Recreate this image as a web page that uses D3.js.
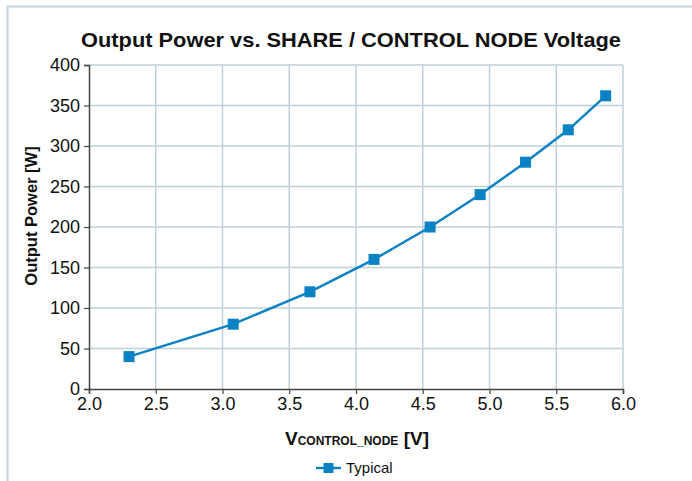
<!DOCTYPE html>
<html>
<head>
<meta charset="utf-8">
<script src="https://cdn.jsdelivr.net/npm/d3@7"></script>
<style>
  body { margin: 0; background: #fff; }
  svg { display: block; font-family: "Liberation Sans", Arial, sans-serif; }
</style>
</head>
<body>
<div id="chart"></div>
<script>
// Values
const voltage = [2.3, 3.08, 3.655, 4.135, 4.555, 4.93, 5.27, 5.59, 5.87];
const power = [40, 80, 120, 160, 200, 240, 280, 320, 362];
const xTicks = [2.0, 2.5, 3.0, 3.5, 4.0, 4.5, 5.0, 5.5, 6.0];
const yTicks = [0, 50, 100, 150, 200, 250, 300, 350, 400];
const seriesName = "Typical";

const W = 692, H = 481;
const margin = {top: 65, right: 69, bottom: 92, left: 89};
const width = W - margin.left - margin.right;
const height = H - margin.top - margin.bottom;
const blue = "#0a82c4";

const svg = d3.select("#chart").append("svg")
  .attr("width", W)
  .attr("height", H);

// outer frame (top and left edges only)
svg.append("line").attr("x1", 7).attr("x2", W).attr("y1", 6.5).attr("y2", 6.5)
  .attr("stroke", "#c3d5dc").attr("stroke-width", 2);
svg.append("line").attr("x1", 7.5).attr("x2", 7.5).attr("y1", 6).attr("y2", H)
  .attr("stroke", "#c3d5dc").attr("stroke-width", 2);

const g = svg.append("g").attr("transform", `translate(${margin.left},${margin.top})`);

const x = d3.scaleLinear().domain([2, 6]).range([0, width]);
const y = d3.scaleLinear().domain([0, 400]).range([height, 0]);

// grid
g.selectAll("line.vgrid").data(xTicks.slice(1)).enter().append("line")
  .attr("class", "vgrid")
  .attr("x1", d => x(d)).attr("x2", d => x(d))
  .attr("y1", 0).attr("y2", height)
  .attr("stroke", "#bfd0d8").attr("stroke-width", 1.5);
g.selectAll("line.hgrid").data(yTicks.slice(1)).enter().append("line")
  .attr("class", "hgrid")
  .attr("x1", 0).attr("x2", width)
  .attr("y1", d => y(d)).attr("y2", d => y(d))
  .attr("stroke", "#bfd0d8").attr("stroke-width", 1.5);

// axes
const xAxis = g.append("g")
  .attr("transform", `translate(0,${height})`)
  .call(d3.axisBottom(x).tickValues(xTicks).tickFormat(d3.format(".1f")).tickSizeOuter(0).tickSize(5));
const yAxis = g.append("g")
  .call(d3.axisLeft(y).tickValues(yTicks).tickSizeOuter(0).tickSize(5));

[xAxis, yAxis].forEach(a => {
  a.select(".domain").attr("stroke", "#444").attr("stroke-width", 1.5);
  a.selectAll(".tick line").attr("stroke", "#444").attr("stroke-width", 1.2);
  a.selectAll(".tick text")
    .attr("fill", "#111")
    .style("font-family", "'Liberation Sans', Arial, sans-serif")
    .style("font-size", "18px");
});
xAxis.selectAll(".tick text").attr("y", 8);
yAxis.selectAll(".tick text").attr("x", -9);

// line + markers
const line = d3.line().x((d, i) => x(voltage[i])).y(d => y(d));
g.append("path")
  .datum(power)
  .attr("fill", "none")
  .attr("stroke", blue)
  .attr("stroke-width", 2.4)
  .attr("d", line);

g.selectAll("rect.pt").data(power).enter().append("rect")
  .attr("class", "pt")
  .attr("x", (d, i) => x(voltage[i]) - 5.5)
  .attr("y", d => y(d) - 5.5)
  .attr("width", 11).attr("height", 11)
  .attr("fill", blue);

// title
svg.append("text")
  .attr("x", 351).attr("y", 47)
  .attr("text-anchor", "middle")
  .attr("textLength", 540).attr("lengthAdjust", "spacingAndGlyphs")
  .style("font-size", "21px").style("font-weight", "bold")
  .attr("fill", "#111")
  .text("Output Power vs. SHARE / CONTROL NODE Voltage");

// y label
svg.append("text")
  .attr("transform", "translate(37,216) rotate(-90)")
  .attr("text-anchor", "middle")
  .style("font-size", "16.5px").style("font-weight", "bold")
  .attr("fill", "#111")
  .text("Output Power [W]");

// x label with subscript
const xl = svg.append("text")
  .attr("x", 357).attr("y", 445)
  .attr("text-anchor", "middle")
  .style("font-weight", "bold")
  .attr("fill", "#111");
xl.append("tspan").style("font-size", "19px").text("V");
xl.append("tspan").style("font-size", "12px").text("CONTROL_NODE");
xl.append("tspan").style("font-size", "19px").text(" [V]");

// legend
const lg = svg.append("g").attr("transform", "translate(316,468)");
lg.append("line").attr("x1", 0).attr("x2", 25).attr("y1", 0).attr("y2", 0)
  .attr("stroke", blue).attr("stroke-width", 2.4);
lg.append("rect").attr("x", 7.5).attr("y", -5).attr("width", 10).attr("height", 10).attr("fill", blue);
lg.append("text").attr("x", 30).attr("y", 5)
  .style("font-size", "15px").attr("fill", "#111")
  .text(seriesName);
</script>
</body>
</html>
